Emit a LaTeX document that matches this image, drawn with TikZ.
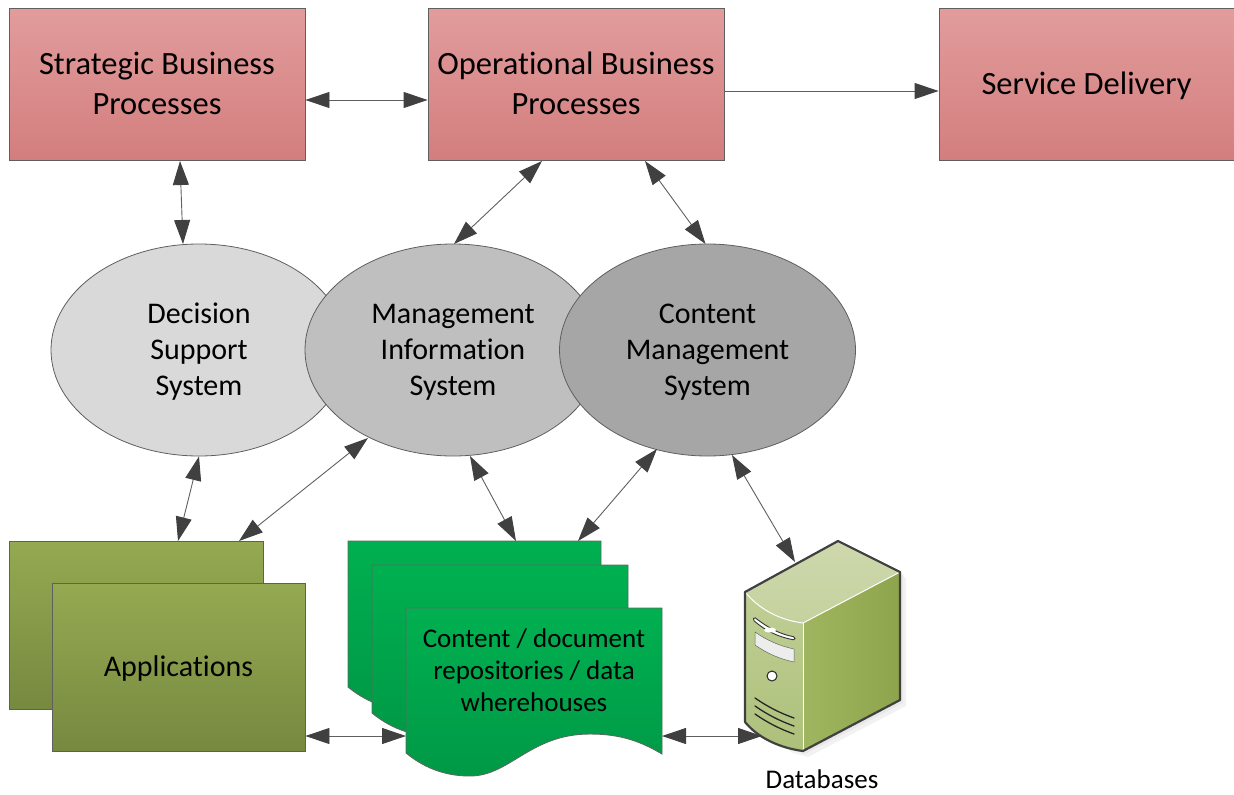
\documentclass[tikz,border=0pt]{standalone}
\usepackage{fontspec}
\setmainfont{Carlito}[Ligatures=NoCommon]
\usetikzlibrary{arrows.meta,calc,shapes.geometric}
\definecolor{arrowgray}{HTML}{404040}
\definecolor{linegray}{HTML}{5F5F5F}
\definecolor{redtop}{HTML}{E29C9C}
\definecolor{redbot}{HTML}{D37E7E}
\definecolor{apptop}{HTML}{95A952}
\definecolor{appbot}{HTML}{76893F}
\definecolor{doctop}{HTML}{00B050}
\definecolor{docbot}{HTML}{009946}
\definecolor{docline}{HTML}{5A6A60}
\definecolor{srvtopa}{HTML}{CDD8AD}
\definecolor{srvtopb}{HTML}{C5D29E}
\definecolor{srvsidea}{HTML}{9FB55F}
\definecolor{srvsideb}{HTML}{8EA44C}
\definecolor{srvfronta}{HTML}{C0CF95}
\definecolor{srvfrontb}{HTML}{ADC07A}
\tikzset{
  procbox/.style={draw=linegray,line width=0.9pt,rectangle,inner sep=0pt,minimum width=296pt,minimum height=152pt,
    top color=redtop,bottom color=redbot,align=center,font=\fontsize{32.5}{40}\selectfont},
  sysnode/.style={draw=linegray,line width=0.8pt,ellipse,inner sep=0pt,minimum width=296pt,minimum height=212pt,
    align=center,font=\fontsize{30}{36}\selectfont},
  systext/.style={inner sep=0pt,align=center,font=\fontsize{30}{36}\selectfont},
  proctext/.style={inner sep=0pt,align=center,font=\fontsize{32.5}{40}\selectfont},
  appbox/.style={draw=linegray,line width=0.9pt,rectangle,inner sep=0pt,minimum width=254pt,minimum height=168pt,
    top color=apptop,bottom color=appbot,font=\fontsize{30}{34}\selectfont},
  docshape/.style={draw=docline,line width=0.9pt,top color=doctop,bottom color=docbot},
  twoway/.style={draw=linegray,line width=0.9pt,{Triangle[length=24pt,width=16pt,color=arrowgray]}-{Triangle[length=24pt,width=16pt,color=arrowgray]}},
  oneway/.style={draw=linegray,line width=0.9pt,-{Triangle[length=24pt,width=16pt,color=arrowgray]}},
  slit/.style={line width=1.3pt,draw=black!85,line cap=round},
}
\newcommand{\docwave}{(662,754)
  .. controls (640,741) and (620,734) .. (590,734)
  .. controls (530,734) and (510,776) .. (470,776)
  .. controls (450,776) and (428,771) .. (406,753) -- cycle}
\begin{document}
\begin{tikzpicture}[x=1pt,y=-1pt]
\useasboundingbox (0,0) rectangle (1234,795);
% process boxes
\node[procbox] (sbp) at (157,84) {};
\node[proctext] (sbptext) at (157,83) {Strategic Business\\Processes};
\node[procbox] (obp) at (576,84) {};
\node[proctext] (obptext) at (576,83) {Operational Business\\Processes};
\node[procbox,minimum width=295pt] (sd) at (1086.5,84) {};
\node[proctext] (sdtext) at (1086.5,86) {Service Delivery};
% systems
\node[sysnode,fill=black!15] (dss) at (199,350) {};
\node[systext] (dsstext) at (199,352) {Decision\\Support\\System};
\node[sysnode,fill=black!25] (mis) at (453,350) {};
\node[systext] (mistext) at (453,352) {Management\\Information\\System};
\node[sysnode,fill=black!35] (cms) at (707.5,350) {};
\node[systext] (cmstext) at (707.5,352) {Content\\Management\\System};
% applications
\node[appbox] (appback) at (136,625) {};
\node[appbox,minimum width=253pt] (app) at (178.5,667) {};
\node[inner sep=0pt,font=\fontsize{30}{34}\selectfont] (apptext) at (178.5,668.5) {Applications};
% documents
\path[docshape,xshift=-58pt,yshift=66pt] (406,607) -- (659,607) -- (659,754)
  .. controls (640,741) and (620,734) .. (590,734)
  .. controls (530,734) and (510,776) .. (470,776)
  .. controls (450,776) and (428,771) .. (406,753) -- cycle;
\path[docshape,xshift=-34pt,yshift=40pt] (406,605) -- (662,605) -- \docwave;
\path[docshape] (406,608) -- (662,608) -- \docwave;
\node[inner sep=0pt] (docone) at (474.5,541) {};
\node[inner sep=0pt] (doctwo) at (500,565) {};
\node[inner sep=0pt,align=center,font=\fontsize{27}{32}\selectfont] (repo) at (534,670) {Content / document\\repositories / data\\wherehouses};
% server
\fill[black!5] (750,598) -- (843,546) -- (906,578) -- (906,706) -- (808,757) -- (790,752) -- cycle;
\fill[black!9] (748,595) -- (840,543) -- (903,575) -- (903,703) -- (805,754) -- (780,745) -- cycle;
\shade[top color=srvtopa,bottom color=srvtopb] (745,592) -- (838,541) -- (900,572) -- (803,623) .. controls (780,620) and (760,610) .. (745,592) -- cycle;
\shade[left color=srvsidea,right color=srvsideb] (803,623) -- (900,572) -- (900,700) -- (803,751) -- cycle;
\shade[top color=srvfronta,bottom color=srvfrontb] (745,592) .. controls (760,610) and (780,620) .. (803,623) -- (803,751) .. controls (780,748) and (758,738) .. (745,722) -- cycle;
\draw[white,line width=1pt] (745,592) .. controls (760,610) and (780,620) .. (803,623) -- (900,572);
\draw[white,line width=1pt] (803,623) -- (803,751);
\draw[draw=black!75,line width=2.2pt,line join=round] (745,722) -- (745,592) -- (838,541) -- (900,572) -- (900,700) -- (803,751) .. controls (780,748) and (758,738) .. (745,722);
% server details
\draw[black!80,fill=white,line width=0.9pt,rounded corners=1.5pt] (754,617) .. controls (770,629) and (780,634) .. (795,637) -- (795,640) .. controls (778,637) and (766,631) .. (753,620) -- cycle;
\fill[white] (770,630) ellipse (6pt and 2.5pt);
\draw[black!60,fill=white!93!black,line width=0.5pt] (755,632) .. controls (768,641) and (780,646) .. (794,649) -- (794,662) .. controls (780,659) and (768,654) .. (755,645) -- cycle;
\draw[black!85,fill=white,line width=1pt] (772,676) circle (5pt);
\draw[slit] (755,698) .. controls (768,707) and (780,713) .. (794,718);
\draw[slit] (755,706) .. controls (768,715) and (780,721) .. (794,726);
\draw[slit] (755,714) .. controls (768,723) and (780,729) .. (794,734);
\node[inner sep=0pt] (srv) at (822,646) {};
\node[inner sep=0pt,font=\fontsize{27}{30}\selectfont] (dbl) at (822,779) {Databases};
% connectors
\draw[twoway] (sbp.east |- 0,100) -- (obp.west |- 0,100);
\draw[oneway] (obp.east |- 0,91) -- (sd.west |- 0,91);
\draw[twoway] ($(sbp)+(23,77)$) -- ($(dss)+(-16,-106)$);
\draw[twoway] ($(obp)+(-34,77)$) -- ($(mis)+(1,-106)$);
\draw[twoway] ($(obp)+(69,77)$) -- ($(cms)+(-2,-106)$);
\draw[twoway] (dss.south) -- ($(appback)+(42,-84)$);
\draw[twoway] ($(mis)+(-85,88)$) -- ($(appback)+(103,-84)$);
\draw[twoway] ($(mis)+(17,106)$) -- ($(docone)+(41.5,0)$);
\draw[twoway] ($(cms)+(-50.5,99)$) -- ($(docone)+(103.5,0)$);
\draw[twoway] ($(cms)+(24.5,105)$) -- ($(srv)+(-27,-84)$);
\draw[twoway] (app.east |- 0,736) -- ($(repo)+(-128,66)$);
\draw[twoway] ($(repo)+(128,66)$) -- ($(srv)+(-60,90)$);
\end{tikzpicture}
\end{document}
